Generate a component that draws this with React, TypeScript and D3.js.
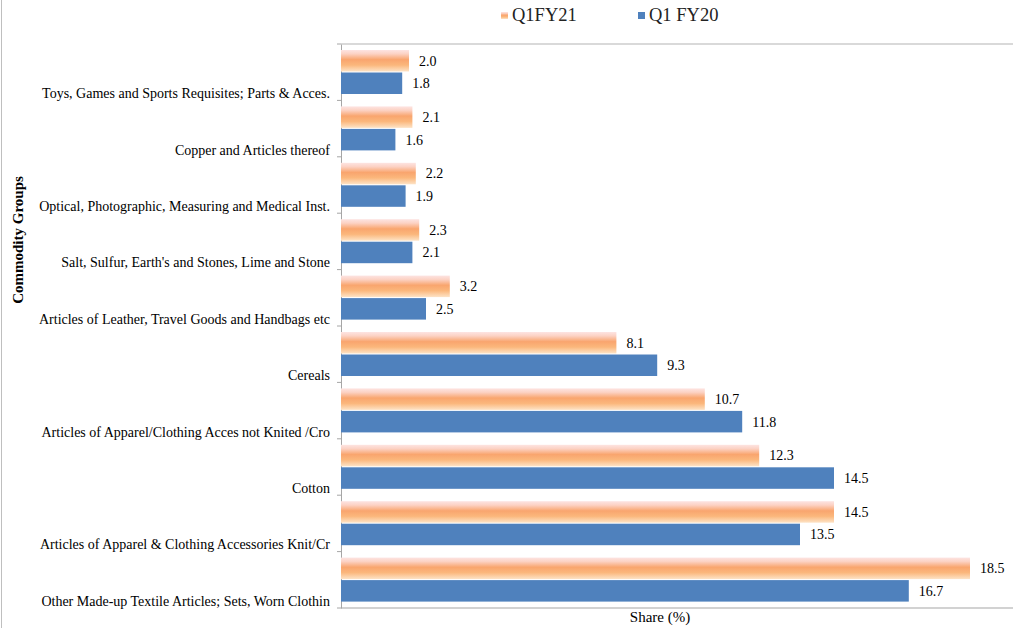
import React, { useEffect, useRef } from 'react';
import * as d3 from 'd3';

// Commodity groups, top to bottom
const categories = [
  'Toys, Games and Sports Requisites; Parts & Acces.',
  'Copper and Articles thereof',
  'Optical, Photographic, Measuring and Medical Inst.',
  "Salt, Sulfur, Earth's and Stones, Lime and Stone",
  'Articles of Leather, Travel Goods and Handbags etc',
  'Cereals',
  'Articles of Apparel/Clothing Acces not Knited /Cro',
  'Cotton',
  'Articles of Apparel & Clothing Accessories Knit/Cr',
  'Other Made-up Textile Articles; Sets, Worn Clothin',
];

const q1fy21 = [2.0, 2.1, 2.2, 2.3, 3.2, 8.1, 10.7, 12.3, 14.5, 18.5];
const q1fy20 = [1.8, 1.6, 1.9, 2.1, 2.5, 9.3, 11.8, 14.5, 13.5, 16.7];

const seriesNames = ['Q1FY21', 'Q1 FY20'];

export default function App() {
  const svgRef = useRef<SVGSVGElement | null>(null);

  useEffect(() => {
    if (!svgRef.current) return;
    const svg = d3.select(svgRef.current);
    svg.selectAll('*').remove();

    const W = 1013;
    const H = 628;
    const left = 341;
    const top = 44;
    const bottom = 608;
    const serif = "'Liberation Serif', 'DejaVu Serif', serif";

    // orange gradient fill
    const defs = svg.append('defs');
    const grad = defs.append('linearGradient')
      .attr('id', 'orangeGrad')
      .attr('x1', 0).attr('y1', 0).attr('x2', 0).attr('y2', 1);
    [
      [0, '#fde4e2'],
      [0.18, '#fcd2c4'],
      [0.45, '#f9a56e'],
      [0.7, '#fbb77c'],
      [1, '#fde3c6'],
    ].forEach(([o, c]) => grad.append('stop').attr('offset', o as number).attr('stop-color', c as string));

    const x = d3.scaleLinear().domain([0, 19.7]).range([left, left + 19.7 * 34]);
    const y = d3.scaleBand<string>().domain(categories).range([top, bottom]);
    const inner = d3.scaleBand<string>()
      .domain(seriesNames)
      .range([6, y.bandwidth() - 6.4])
      .paddingInner(0.045);

    // frame lines
    svg.append('line').attr('x1', 1.5).attr('x2', 1.5).attr('y1', 0).attr('y2', H)
      .attr('stroke', '#bfbfbf');
    svg.append('line').attr('x1', left).attr('x2', W).attr('y1', top).attr('y2', top)
      .attr('stroke', '#b3b3b3').attr('stroke-width', 1);
    svg.append('line').attr('x1', left).attr('x2', W).attr('y1', bottom).attr('y2', bottom)
      .attr('stroke', '#a6a6a6').attr('stroke-width', 1.2);

    // y axis with ticks
    const yAxis = d3.axisLeft(y).tickSize(0).tickFormat(() => '');
    svg.append('g')
      .attr('transform', `translate(${left},0)`)
      .call(yAxis)
      .call(g => g.select('.domain').attr('stroke', '#a6a6a6'));
    svg.append('g').selectAll('line')
      .data(d3.range(categories.length + 1))
      .enter().append('line')
      .attr('x1', left - 4).attr('x2', left)
      .attr('y1', i => top + i * y.step()).attr('y2', i => top + i * y.step())
      .attr('stroke', '#a6a6a6');

    const g0 = svg.append('g').attr('font-family', serif).attr('fill', '#000');

    // category labels
    g0.append('g').selectAll('text')
      .data(categories)
      .enter().append('text')
      .attr('x', 330)
      .attr('y', d => (y(d) as number) + y.bandwidth() / 2 + 21)
      .attr('dy', '0.35em')
      .attr('text-anchor', 'end')
      .attr('font-size', 14)
      .text(d => d);

    const series = [
      { name: seriesNames[0], values: q1fy21, fill: 'url(#orangeGrad)' },
      { name: seriesNames[1], values: q1fy20, fill: '#4f81bd' },
    ];

    series.forEach(s => {
      const g = g0.append('g');
      g.selectAll('rect')
        .data(s.values)
        .enter().append('rect')
        .attr('x', x(0))
        .attr('y', (d, i) => (y(categories[i]) as number) + (inner(s.name) as number))
        .attr('width', d => x(d) - x(0))
        .attr('height', inner.bandwidth())
        .attr('fill', s.fill);
      g.selectAll('text')
        .data(s.values)
        .enter().append('text')
        .attr('x', d => x(d) + 10)
        .attr('y', (d, i) => (y(categories[i]) as number) + (inner(s.name) as number) + inner.bandwidth() / 2)
        .attr('dy', '0.35em')
        .attr('font-size', 14)
        .text(d => d.toFixed(1));
    });

    // legend
    const legend = [
      { name: seriesNames[0], x: 501, fill: 'url(#orangeGrad)' },
      { name: seriesNames[1], x: 638, fill: '#4f81bd' },
    ];
    legend.forEach(l => {
      g0.append('rect').attr('x', l.x).attr('y', 12).attr('width', 7).attr('height', 7).attr('fill', l.fill);
      g0.append('text').attr('x', l.x + 11).attr('y', 15).attr('dy', '0.35em')
        .attr('font-size', 18.5).attr('fill', '#222')
        .text(l.name);
    });

    // axis titles
    g0.append('text')
      .attr('transform', `translate(18,${240}) rotate(-90)`)
      .attr('text-anchor', 'middle')
      .attr('dy', '0.35em')
      .attr('font-size', 15)
      .attr('font-weight', 'bold')
      .text('Commodity Groups');

    g0.append('text')
      .attr('x', 660)
      .attr('y', 617)
      .attr('dy', '0.35em')
      .attr('text-anchor', 'middle')
      .attr('font-size', 15)
      .text('Share (%)');
  }, []);

  return (
    <div style={{ position: 'absolute', left: 0, top: 0 }}>
      <svg ref={svgRef} width={1013} height={628} style={{ display: 'block', background: '#fff' }} />
    </div>
  );
}
